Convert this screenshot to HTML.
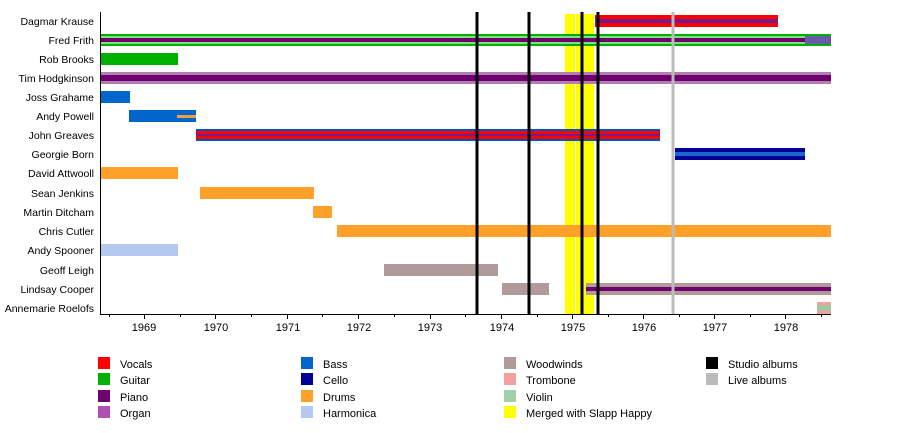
<!DOCTYPE html>
<html><head><style>body{margin:0;background:#fff}svg{display:block}text{font-family:"Liberation Sans",sans-serif;font-size:11px;fill:#000}.lab text{font-size:10.5px}</style></head>
<body>
<svg width="900" height="433" viewBox="0 0 900 433">
<g text-anchor="end" class="lab">
<text x="94" y="25">Dagmar Krause</text>
<text x="94" y="44">Fred Frith</text>
<text x="94" y="63">Rob Brooks</text>
<text x="94" y="82">Tim Hodgkinson</text>
<text x="94" y="101">Joss Grahame</text>
<text x="94" y="120">Andy Powell</text>
<text x="94" y="139">John Greaves</text>
<text x="94" y="158">Georgie Born</text>
<text x="94" y="177">David Attwooll</text>
<text x="94" y="197">Sean Jenkins</text>
<text x="94" y="216">Martin Ditcham</text>
<text x="94" y="235">Chris Cutler</text>
<text x="94" y="254">Andy Spooner</text>
<text x="94" y="274">Geoff Leigh</text>
<text x="94" y="293">Lindsay Cooper</text>
<text x="94" y="312">Annemarie Roelofs</text>
</g>
<rect x="565" y="14" width="10" height="300" fill="#ffff00"/>
<rect x="576" y="14" width="18" height="300" fill="#ffff00"/>
<rect x="595" y="15" width="183" height="12" fill="#ff0000"/><rect x="595" y="19" width="183" height="4" fill="#7a1a8a"/>
<rect x="100" y="34" width="731" height="12" fill="#00b000"/><rect x="100" y="36" width="731" height="8" fill="#80e080"/><rect x="100" y="38" width="731" height="4" fill="#700070"/>
<rect x="805" y="36" width="26" height="8" fill="#6a5aa8"/>
<rect x="100" y="53" width="78" height="12" fill="#00b000"/>
<rect x="100" y="72" width="731" height="12" fill="#b080b0"/><rect x="100" y="75" width="731" height="6" fill="#700070"/>
<rect x="100" y="91" width="30" height="12" fill="#0066cc"/>
<rect x="129" y="110" width="67" height="12" fill="#0066cc"/><rect x="177" y="115" width="19" height="3" fill="#f0a040"/>
<rect x="196" y="129" width="464" height="12" fill="#0055bb"/><rect x="196" y="131" width="464" height="8" fill="#ff0000"/><rect x="196" y="134" width="464" height="2" fill="#7a1a8a"/>
<rect x="675" y="148" width="130" height="12" fill="#000099"/><rect x="675" y="152" width="130" height="4" fill="#1a66cc"/>
<rect x="100" y="167" width="78" height="12" fill="#ffa028"/>
<rect x="200" y="187" width="114" height="12" fill="#ffa028"/>
<rect x="313" y="206" width="19" height="12" fill="#ffa028"/>
<rect x="337" y="225" width="494" height="12" fill="#ffa028"/>
<rect x="100" y="244" width="78" height="12" fill="#b4c8f0"/>
<rect x="384" y="264" width="114" height="12" fill="#b09a9a"/>
<rect x="502" y="283" width="47" height="12" fill="#b09a9a"/>
<rect x="586" y="283" width="245" height="12" fill="#b09a9a"/><rect x="586" y="287" width="245" height="4" fill="#700070"/>
<rect x="817" y="302" width="14" height="12" fill="#f4a0a0"/><rect x="817" y="305" width="14" height="6" fill="#a0c8a0"/>
<g stroke="#000" stroke-width="3">
<line x1="477" y1="12" x2="477" y2="314"/><line x1="529" y1="12" x2="529" y2="314"/>
<line x1="582" y1="12" x2="582" y2="314"/><line x1="598" y1="12" x2="598" y2="314"/>
</g>
<line x1="673" y1="12" x2="673" y2="314" stroke="#bbb" stroke-width="3"/>
<line x1="100.5" y1="12" x2="100.5" y2="314" stroke="#000"/>
<line x1="100" y1="314.5" x2="831" y2="314.5" stroke="#000"/>
<g stroke="#000">
<path d="M144.5 314v5M215.5 314v5M287.5 314v5M358.5 314v5M430.5 314v5M501.5 314v5M572.5 314v5M643.5 314v5M714.5 314v5M785.5 314v5"/>
<path d="M109.5 314v3M180.5 314v3M251.5 314v3M322.5 314v3M394.5 314v3M465.5 314v3M537.5 314v3M608.5 314v3M679.5 314v3M750.5 314v3M821.5 314v3"/>
</g>
<g text-anchor="middle">
<text x="144" y="331">1969</text><text x="216" y="331">1970</text><text x="288" y="331">1971</text><text x="359" y="331">1972</text><text x="430" y="331">1973</text><text x="502" y="331">1974</text><text x="573" y="331">1975</text><text x="644" y="331">1976</text><text x="715" y="331">1977</text><text x="786" y="331">1978</text>
</g>
<g>
<rect x="98" y="357" width="12" height="12" fill="#ff0000"/><text x="120" y="368">Vocals</text>
<rect x="98" y="373" width="12" height="12" fill="#00b000"/><text x="120" y="384">Guitar</text>
<rect x="98" y="390" width="12" height="12" fill="#700070"/><text x="120" y="401">Piano</text>
<rect x="98" y="406" width="12" height="12" fill="#b050b0"/><text x="120" y="417">Organ</text>
<rect x="301" y="357" width="12" height="12" fill="#0066cc"/><text x="323" y="368">Bass</text>
<rect x="301" y="373" width="12" height="12" fill="#000099"/><text x="323" y="384">Cello</text>
<rect x="301" y="390" width="12" height="12" fill="#ffa028"/><text x="323" y="401">Drums</text>
<rect x="301" y="406" width="12" height="12" fill="#b4c8f0"/><text x="323" y="417">Harmonica</text>
<rect x="504" y="357" width="12" height="12" fill="#b09a9a"/><text x="526" y="368">Woodwinds</text>
<rect x="504" y="373" width="12" height="12" fill="#f4a0a0"/><text x="526" y="384">Trombone</text>
<rect x="504" y="390" width="12" height="12" fill="#a0d0a8"/><text x="526" y="401">Violin</text>
<rect x="504" y="406" width="12" height="12" fill="#ffff00"/><text x="526" y="417">Merged with Slapp Happy</text>
<rect x="706" y="357" width="12" height="12" fill="#000"/><text x="728" y="368">Studio albums</text>
<rect x="706" y="373" width="12" height="12" fill="#bbb"/><text x="728" y="384">Live albums</text>
</g>
</svg>
</body></html>
